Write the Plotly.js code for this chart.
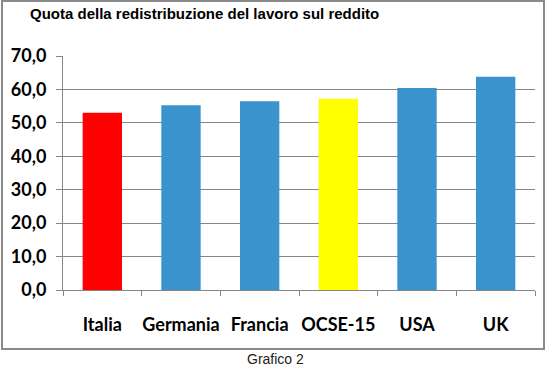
<!DOCTYPE html>
<html>
<head>
<meta charset="utf-8">
<script src="https://cdn.plot.ly/plotly-3.0.1.min.js"></script>
<style>
html,body{margin:0;padding:0;background:#fff;}
#chart{width:550px;height:371px;}
</style>
</head>
<body>
<div id="chart"></div>
<script>
const categories = ["Italia", "Germania", "Francia", "OCSE-15", "USA", "UK"];
const values = [53.0, 55.3, 56.5, 57.2, 60.4, 63.8];
const barColors = ["#FF0000", "#3A93CD", "#3A93CD", "#FFFF00", "#3A93CD", "#3A93CD"];
const titleText = "Quota della redistribuzione del lavoro sul reddito";
const captionText = "Grafico 2";

const gray = "#868686";
const trace = {
  type: "bar",
  x: categories,
  y: values,
  marker: {color: barColors, line: {width: 0}},
  hoverinfo: "x+y"
};

const layout = {
  width: 550,
  height: 371,
  margin: {l: 63, r: 15, t: 56, b: 81},
  paper_bgcolor: "#fff",
  plot_bgcolor: "#fff",
  separators: ",.",
  bargap: 0.5,
  showlegend: false,
  title: {
    text: titleText,
    font: {family: "Liberation Sans, Arial, sans-serif", size: 15, color: "#000", weight: "bold"},
    xref: "container", yref: "container",
    x: 30/550, xanchor: "left",
    y: 1 - 14/371, yanchor: "middle"
  },
  xaxis: {
    type: "category",
    showline: true, linecolor: gray, linewidth: 1,
    ticks: "outside", tickson: "boundaries", ticklen: 5, tickcolor: gray,
    tickangle: 0,
    tickfont: {family: "Lato, Open Sans, sans-serif", size: 18, color: "#000", weight: "bold"},
    ticklabelstandoff: 18,
    showgrid: false, zeroline: false, fixedrange: true
  },
  yaxis: {
    range: [0, 70], dtick: 10, tick0: 0,
    tickformat: ".1f",
    showline: true, linecolor: gray, linewidth: 1,
    ticks: "outside", ticklen: 6, tickcolor: gray,
    showgrid: true, gridcolor: gray, gridwidth: 1,
    zeroline: false,
    tickfont: {family: "Lato, Open Sans, sans-serif", size: 18, color: "#000", weight: "bold"},
    ticklabelstandoff: 6,
    fixedrange: true
  },
  shapes: [{
    type: "rect", xref: "paper", yref: "paper",
    x0: (2-63)/472, x1: (544-63)/472,
    y0: (290-349)/234, y1: (290-1)/234,
    line: {color: "#8a8a8a", width: 2}, fillcolor: "rgba(0,0,0,0)", layer: "below"
  }],
  annotations: [{
    text: captionText, showarrow: false,
    xref: "paper", yref: "paper",
    x: (275-63)/472, y: (290-359)/234,
    xanchor: "center", yanchor: "middle",
    font: {family: "Liberation Sans, Arial, sans-serif", size: 14, color: "#222"}
  }]
};

Plotly.newPlot("chart", [trace], layout, {displayModeBar: false, staticPlot: true});
</script>
</body>
</html>
